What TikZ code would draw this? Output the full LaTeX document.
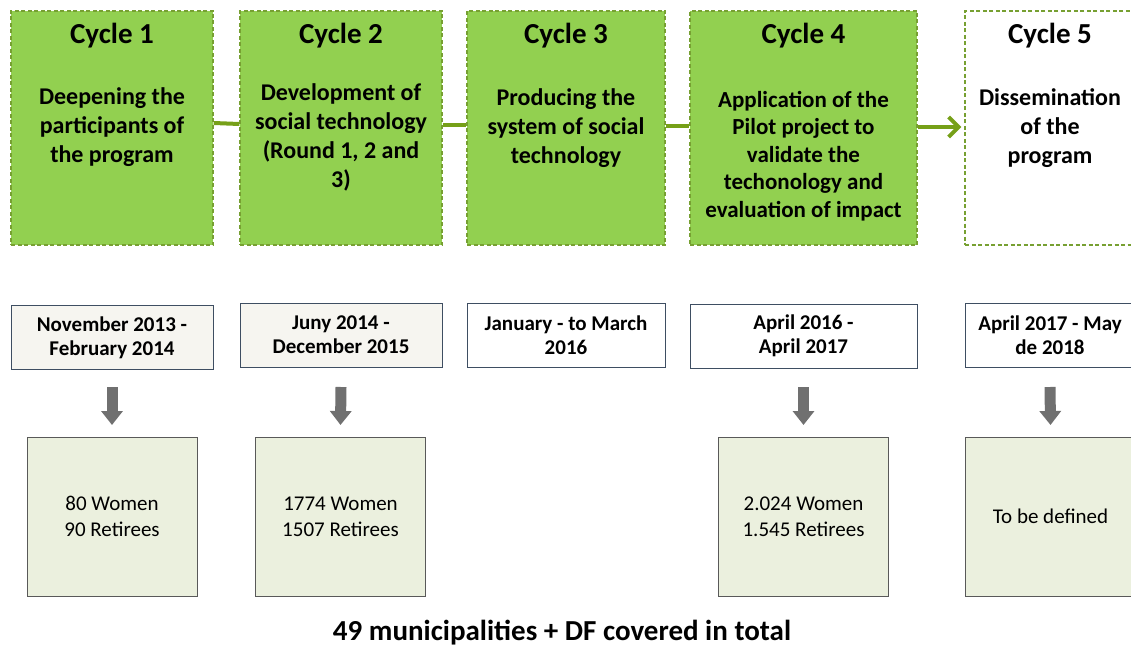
\documentclass[tikz,border=0pt]{standalone}
\usepackage{fontspec}
\setmainfont{Carlito}
\usetikzlibrary{arrows.meta}

\definecolor{cyclegreen}{RGB}{146,208,80}
\definecolor{dashgreen}{RGB}{119,160,50}
\definecolor{linkgreen}{RGB}{118,160,24}
\definecolor{dateline}{RGB}{62,78,98}
\definecolor{datefill}{RGB}{246,245,240}
\definecolor{countfill}{RGB}{235,240,222}
\definecolor{countline}{RGB}{89,89,89}
\definecolor{arrowgray}{RGB}{112,112,112}

\tikzset{
  cyclebox/.style={draw=dashgreen, fill=cyclegreen, dash pattern=on 4pt off 2.5pt, line width=1.2pt, minimum height=234pt, inner sep=0pt},
  cycletitle/.style={font=\bfseries\fontsize{29}{32}\selectfont},
  cycletext/.style={font=\bfseries\fontsize{24}{29}\selectfont, align=center, inner sep=0pt},
  datebox/.style={draw=dateline, line width=1pt, minimum height=64pt, inner sep=0pt, align=center, font=\bfseries\fontsize{21}{24}\selectfont},
  countbox/.style={draw=countline, fill=countfill, line width=0.8pt, minimum width=170pt, minimum height=159pt, inner sep=0pt, align=center, font=\fontsize{21}{26}\selectfont},
  link/.style={draw=linkgreen, line width=4pt},
  downarrow/.style={draw=arrowgray, line width=11pt, -{Triangle[length=14pt,width=21pt]}}
}

\begin{document}
\begin{tikzpicture}[x=1pt,y=-1pt]
\useasboundingbox (0,0) rectangle (1131,650);

% cycles
\node[cyclebox, minimum width=202pt] (c1) at (112,128) {};
\node[cyclebox, minimum width=202pt] (c2) at (341,128) {};
\node[cyclebox, minimum width=198pt] (c3) at (566,128) {};
\node[cyclebox, minimum width=227pt] (c4) at (803.5,128) {};
\node[cyclebox, fill=white, minimum width=170pt] (c5) at (1050,128) {};

% links between cycles
\draw[link] ([yshift=5pt]c1.east) -- ([yshift=4pt]c2.west);
\draw[link] ([yshift=3pt]c2.east) -- ([yshift=3pt]c3.west);
\draw[link] ([yshift=2pt]c3.east) -- ([yshift=2pt]c4.west);
\draw[link, -{Straight Barb[length=10pt,width=20pt]}, shorten >=3pt] ([yshift=1pt]c4.east) -- ([yshift=1pt]c5.west);

% titles
\node[cycletitle] (t1) at (112,36) {Cycle 1};
\node[cycletitle] (t2) at (341,36) {Cycle 2};
\node[cycletitle] (t3) at (566,36) {Cycle 3};
\node[cycletitle] (t4) at (803.5,36) {Cycle 4};
\node[cycletitle] (t5) at (1050,36) {Cycle 5};

% descriptions
\node[cycletext] (s1) at (112,127) {Deepening the\\participants of\\the program};
\node[cycletext] (s2) at (341,137.5) {Development of\\social technology\\(Round 1, 2 and\\3)};
\node[cycletext] (s3) at (566,128) {Producing the\\system of social\\technology};
\node[cycletext, font=\bfseries\fontsize{23}{27.5}\selectfont] (s4) at (803.5,156) {Application of the\\Pilot project to\\validate the\\techonology and\\evaluation of impact};
\node[cycletext] (s5) at (1050,128) {Dissemination\\of the\\program};

% periods
\node[datebox, fill=datefill, minimum width=202pt] (d1) at (112,337.5) {November 2013 -\\February 2014};
\node[datebox, fill=datefill, minimum width=202pt] (d2) at (341,335) {Juny 2014 -\\December 2015};
\node[datebox, minimum width=198pt] (d3) at (566,335) {January - to March\\2016};
\node[datebox, minimum width=227pt] (d4) at (803.5,336) {April 2016 -\\April 2017};
\node[datebox, minimum width=170pt] (d5) at (1050,335) {April 2017 - May\\de 2018};

% participants
\node[countbox] (b1) at (112,516.5) {80 Women\\90 Retirees};
\node[countbox] (b2) at (340.5,516.5) {1774 Women\\1507 Retirees};
\node[countbox] (b4) at (803.5,516.5) {2.024 Women\\1.545 Retirees};
\node[countbox] (b5) at (1050.5,516.5) {To be defined};

% arrows
\draw[downarrow] (d1.south |- 0,387) -- (b1.north |- 0,425);
\draw[downarrow] (d2.south |- 0,387) -- (b2.north |- 0,425);
\draw[downarrow] (d4.south |- 0,387) -- (b4.north |- 0,425);
\draw[downarrow] (d5.south |- 0,387) -- (b5.north |- 0,425);

\node[font=\bfseries\fontsize{29}{32}\selectfont] (total) at (562,633) {49 municipalities + DF covered in total};

\end{tikzpicture}
\end{document}
